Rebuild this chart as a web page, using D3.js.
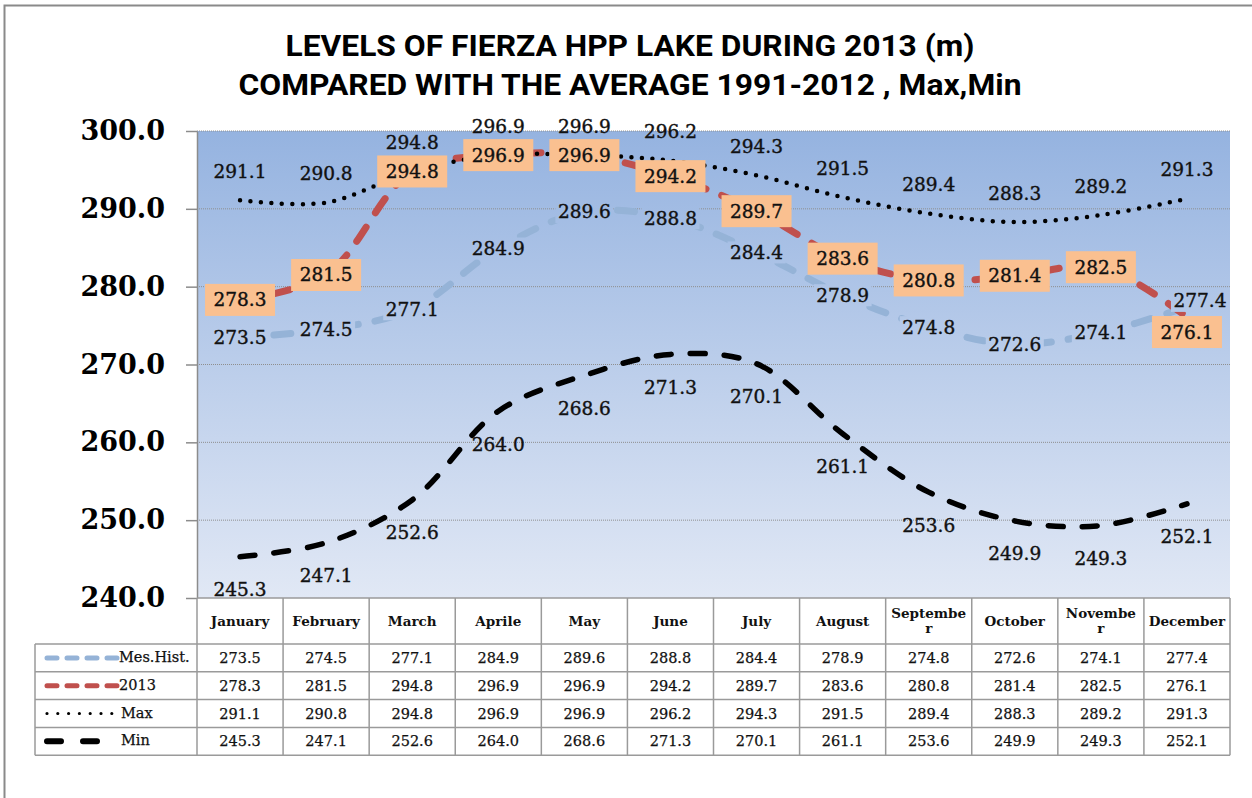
<!DOCTYPE html>
<html>
<head>
  <meta charset="utf-8">
  <title>Fierza HPP lake levels 2013</title>
  <script src="https://d3js.org/d3.v7.min.js"></script>
  <style>
    body { margin: 0; background: #ffffff; }
    svg { display: block; }
    .title { font-family: "Liberation Sans Narrow", "Roboto", "Open Sans", sans-serif; font-weight: bold; font-size: 30px; fill: #000; }
    .y-axis text { font-family: "DejaVu Serif", serif; font-weight: bold; font-size: 27px; fill: #000; }
    .y-axis path, .y-axis line { stroke: #8c8c8c; stroke-width: 1.5; }
    .lbl { font-family: "DejaVu Serif", serif; font-size: 18.5px; fill: #111; stroke: #111; stroke-width: 0.4px; }
    .hdr { font-family: "DejaVu Serif", serif; font-weight: bold; font-size: 13.5px; fill: #111; }
    .cell { font-family: "DejaVu Serif", serif; font-size: 14.5px; fill: #111; stroke: #111; stroke-width: 0.25px; }
  </style>
</head>
<body>
  <svg id="chart" width="1252" height="798"></svg>

  <script>
    // Data
    const months = ["January", "February", "March", "Aprile", "May", "June",
      "July", "August", "September", "October", "November", "December"];
    // header text as it wraps in the table
    const monthHeaders = ["January", "February", "March", "Aprile", "May", "June",
      "July", "August", "Septembe\nr", "October", "Novembe\nr", "December"];

    const mesHist = [273.5, 274.5, 277.1, 284.9, 289.6, 288.8, 284.4, 278.9, 274.8, 272.6, 274.1, 277.4];
    const year2013 = [278.3, 281.5, 294.8, 296.9, 296.9, 294.2, 289.7, 283.6, 280.8, 281.4, 282.5, 276.1];
    const maxLevel = [291.1, 290.8, 294.8, 296.9, 296.9, 296.2, 294.3, 291.5, 289.4, 288.3, 289.2, 291.3];
    const minLevel = [245.3, 247.1, 252.6, 264.0, 268.6, 271.3, 270.1, 261.1, 253.6, 249.9, 249.3, 252.1];

    const seriesNames = ["Mes.Hist.", "2013", "Max", "Min"];
    const yTicks = [240, 250, 260, 270, 280, 290, 300];

    // Layout
    const svg = d3.select("#chart");
    const plot = { left: 197, right: 1230, top: 131, bottom: 598 };
    const table = { left: 35, rowH: 27.8, headerBottom: 644 };

    const x = d3.scaleBand().domain(months).range([plot.left, plot.right]);
    const cx = (i) => x(months[i]) + x.bandwidth() / 2;
    const y = d3.scaleLinear().domain([240, 300]).range([plot.bottom, plot.top]);

    // outer frame (only top/left visible)
    svg.append("rect")
      .attr("x", 4.5).attr("y", 5.5)
      .attr("width", 1260).attr("height", 820)
      .attr("fill", "none").attr("stroke", "#8a8a8a").attr("stroke-width", 2);

    // Title
    const title = svg.append("g");
    title.append("text").attr("class", "title")
      .attr("x", 630).attr("y", 56).attr("text-anchor", "middle")
      .attr("textLength", 689).attr("lengthAdjust", "spacingAndGlyphs")
      .text("LEVELS OF FIERZA HPP  LAKE DURING 2013 (m)");
    title.append("text").attr("class", "title")
      .attr("x", 630).attr("y", 95).attr("text-anchor", "middle")
      .attr("textLength", 783).attr("lengthAdjust", "spacingAndGlyphs")
      .text("COMPARED WITH THE AVERAGE  1991-2012 , Max,Min");

    // Plot background gradient
    const defs = svg.append("defs");
    const grad = defs.append("linearGradient")
      .attr("id", "bg").attr("gradientUnits", "userSpaceOnUse")
      .attr("x1", 0).attr("y1", plot.top).attr("x2", 0).attr("y2", plot.bottom);
    grad.append("stop").attr("offset", "0%").attr("stop-color", "#95b3e0");
    grad.append("stop").attr("offset", "100%").attr("stop-color", "#e1e8f5");

    svg.append("rect")
      .attr("x", plot.left).attr("y", plot.top)
      .attr("width", plot.right - plot.left).attr("height", plot.bottom - plot.top)
      .attr("fill", "url(#bg)");

    // gridlines
    svg.append("g").selectAll("line")
      .data(yTicks.filter((d) => d > 240))
      .join("line")
      .attr("x1", plot.left).attr("x2", plot.right)
      .attr("y1", (d) => y(d)).attr("y2", (d) => y(d))
      .attr("stroke", "#8f8f8f").attr("stroke-width", 1)
      .attr("stroke-dasharray", "1,1");

    // y axis
    svg.append("g")
      .attr("class", "y-axis")
      .attr("transform", `translate(${plot.left},0)`)
      .call(d3.axisLeft(y).tickValues(yTicks).tickFormat(d3.format(".1f")).tickSize(11).tickSizeOuter(0).tickPadding(21));

    // Lines
    const line = d3.line()
      .x((d, i) => cx(i))
      .y((d) => y(d))
      .curve(d3.curveCatmullRom.alpha(0.5));

    const styles = [
      { data: mesHist, color: "#95b3d7", width: 7, dash: "17,17" },
      { data: year2013, color: "#c0504d", width: 7, dash: "17,17" },
      { data: maxLevel, color: "#000000", width: 4.5, dash: "0,10.5" },
      { data: minLevel, color: "#000000", width: 5.5, dash: "15,19" },
    ];

    svg.append("g").selectAll("path")
      .data(styles)
      .join("path")
      .attr("d", (d) => line(d.data))
      .attr("fill", "none")
      .attr("stroke", (d) => d.color)
      .attr("stroke-width", (d) => d.width)
      .attr("stroke-dasharray", (d) => d.dash)
      .attr("stroke-linecap", "round");

    // Data labels
    const labels = svg.append("g");
    const fmt = d3.format(".1f");

    // Mes.Hist: centered on point, hiding the line behind
    const mesShift = mesHist.map((d, i) => (i === 11 ? [13, -6] : [0, 0]));
    const mesG = labels.selectAll("g.mes")
      .data(mesHist)
      .join("g").attr("class", "mes");
    mesG.append("rect")
      .attr("x", (d, i) => cx(i) + mesShift[i][0] - 29)
      .attr("y", (d, i) => y(d) + mesShift[i][1] - 11)
      .attr("width", 58).attr("height", 22)
      .attr("fill", "url(#bg)");
    mesG.append("text").attr("class", "lbl")
      .attr("x", (d, i) => cx(i) + mesShift[i][0])
      .attr("y", (d, i) => y(d) + mesShift[i][1])
      .attr("text-anchor", "middle").attr("dy", "0.35em")
      .text((d) => fmt(d));

    // Max: above
    labels.selectAll("text.max")
      .data(maxLevel)
      .join("text").attr("class", "lbl max")
      .attr("x", (d, i) => cx(i)).attr("y", (d) => y(d) - 29)
      .attr("text-anchor", "middle").attr("dy", "0.35em")
      .text((d) => fmt(d));

    // Min: below
    labels.selectAll("text.min")
      .data(minLevel)
      .join("text").attr("class", "lbl min")
      .attr("x", (d, i) => cx(i)).attr("y", (d) => y(d) + 33)
      .attr("text-anchor", "middle").attr("dy", "0.35em")
      .text((d) => fmt(d));

    // 2013: orange boxes
    const shift2013 = year2013.map((d, i) => (i === 11 ? 15 : 0));
    const boxG = labels.selectAll("g.box")
      .data(year2013)
      .join("g").attr("class", "box")
      .attr("transform", (d, i) => `translate(${cx(i)},${y(d) + shift2013[i]})`);
    boxG.append("rect")
      .attr("x", -35).attr("y", -16).attr("width", 70).attr("height", 32)
      .attr("fill", "#fac090");
    boxG.append("text").attr("class", "lbl")
      .attr("text-anchor", "middle").attr("dy", "0.35em")
      .text((d) => fmt(d));

    // Data table
    const tbl = svg.append("g");
    const gridColor = "#9a9a9a";
    const rowsTop = table.headerBottom;
    const rows = [mesHist, year2013, maxLevel, minLevel];
    const rowY = (r) => rowsTop + r * table.rowH;
    const tableBottom = rowY(rows.length);

    // horizontal lines
    tbl.append("line").attr("x1", plot.left).attr("x2", plot.right)
      .attr("y1", plot.bottom).attr("y2", plot.bottom);
    tbl.selectAll("line.h")
      .data(d3.range(rows.length + 1))
      .join("line").attr("class", "h")
      .attr("x1", table.left).attr("x2", plot.right)
      .attr("y1", (r) => rowY(r)).attr("y2", (r) => rowY(r));
    // vertical lines
    tbl.selectAll("line.v")
      .data(d3.range(months.length + 1))
      .join("line").attr("class", "v")
      .attr("x1", (i) => plot.left + i * x.bandwidth())
      .attr("x2", (i) => plot.left + i * x.bandwidth())
      .attr("y1", plot.bottom).attr("y2", tableBottom);
    tbl.append("line").attr("x1", table.left).attr("x2", table.left)
      .attr("y1", rowsTop).attr("y2", tableBottom);
    tbl.selectAll("line").attr("stroke", gridColor).attr("stroke-width", 1.5);

    // header
    const hdr = tbl.selectAll("text.hdr")
      .data(monthHeaders)
      .join("text").attr("class", "hdr")
      .attr("x", (d, i) => cx(i))
      .attr("y", (d) => (d.includes("\n") ? 613 : 621))
      .attr("text-anchor", "middle");
    hdr.each(function (d, i) {
      const parts = d.split("\n");
      d3.select(this).selectAll("tspan")
        .data(parts)
        .join("tspan")
        .attr("x", cx(i))
        .attr("dy", (p, j) => (j === 0 ? "0.35em" : "1.15em"))
        .text((p) => p);
    });

    // values
    rows.forEach((vals, r) => {
      tbl.selectAll(`text.r${r}`)
        .data(vals)
        .join("text").attr("class", `cell r${r}`)
        .attr("x", (d, i) => cx(i))
        .attr("y", rowY(r) + table.rowH / 2)
        .attr("text-anchor", "middle").attr("dy", "0.35em")
        .text((d) => fmt(d));
    });

    // legend keys in the table
    const keys = [
      { color: "#95b3d7", width: 5, dash: "10,10", x2: 117 },
      { color: "#c0504d", width: 5, dash: "10,10", x2: 117 },
      { color: "#000000", width: 3.2, dash: "0,10.8", x2: 112 },
      { color: "#000000", width: 6, dash: "14,22", x2: 100 },
    ];
    keys.forEach((k, r) => {
      const yy = rowY(r) + table.rowH / 2;
      tbl.append("line")
        .attr("x1", 47).attr("x2", k.x2)
        .attr("y1", yy).attr("y2", yy)
        .attr("stroke", k.color).attr("stroke-width", k.width)
        .attr("stroke-dasharray", k.dash).attr("stroke-linecap", "round");
      tbl.append("text").attr("class", "cell")
        .attr("x", r < 2 ? 119 : 121).attr("y", yy - 1).attr("dy", "0.35em")
        .style("font-size", "14.5px")
        .text(seriesNames[r]);
    });
  </script>
</body>
</html>
